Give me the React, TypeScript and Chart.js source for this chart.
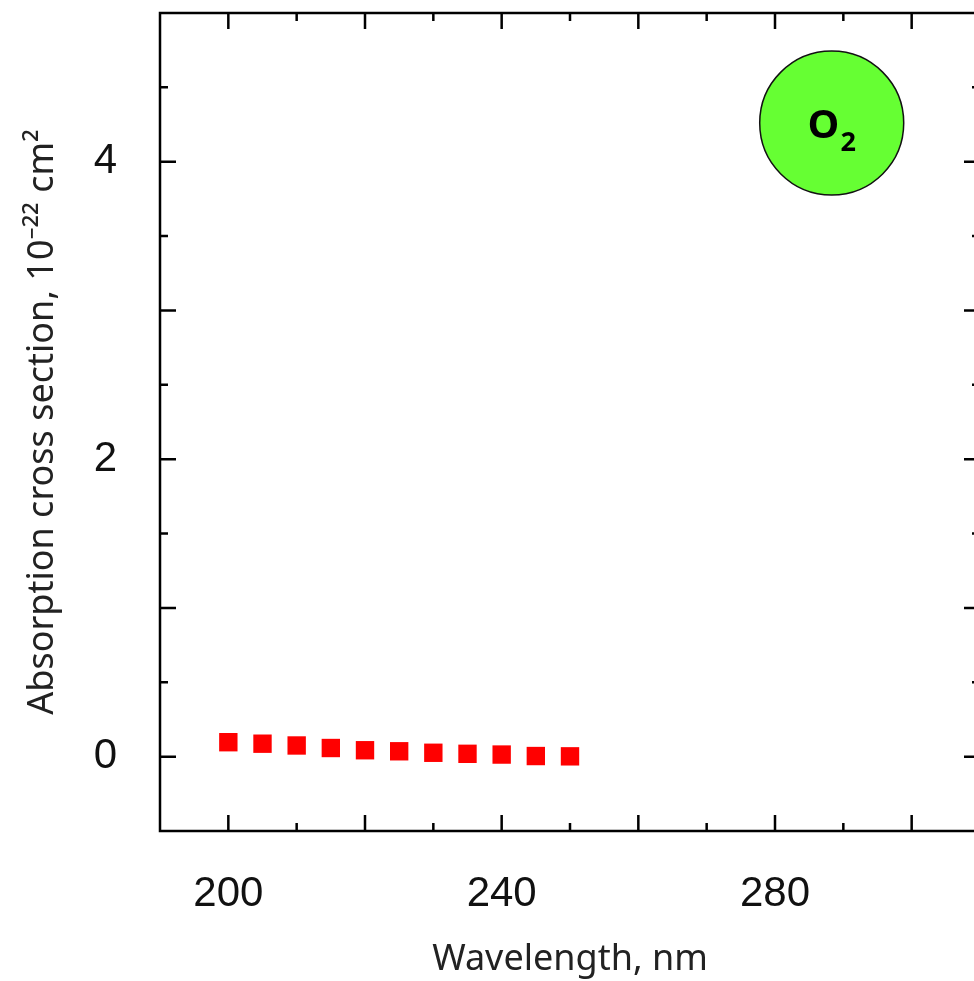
import React, { useEffect, useRef } from "react";
import { Chart, registerables } from "chart.js";

Chart.register(...registerables);

// ---- data ----
const wavelengths = [200, 205, 210, 215, 220, 225, 230, 235, 240, 245, 250];
const crossSections = [0.097, 0.087, 0.075, 0.058, 0.043, 0.036, 0.026, 0.019, 0.014, 0.004, 0.002];

// ---- axes ----
const xRange = [190, 310];
const yRange = [-0.5, 5];
const xTickLabels = [200, 240, 280];
const yTickLabels = [0, 2, 4];
const xMajorTicks = [200, 220, 240, 260, 280, 300];
const xMinorTicks = [210, 230, 250, 270, 290];
const yMajorTicks = [0, 1, 2, 3, 4];
const yMinorTicks = [0.5, 1.5, 2.5, 3.5, 4.5];

const xTitle = "Wavelength, nm";
const yTitle = "Absorption cross section, 10\u207B\u00B2\u00B2 cm\u00B2";

// ---- badge ----
const badgeMain = "O";
const badgeSub = "2";
const badgeWavelength = 288.3;
const badgeValue = 4.26;

const frameTicksPlugin = {
  id: "frameTicks",
  afterDraw(chart: any) {
    const { ctx, chartArea, scales } = chart;
    const { left, right, top, bottom } = chartArea;
    const xs = scales.x;
    const ys = scales.y;
    const major = 16;
    const minor = 8;
    ctx.save();
    ctx.strokeStyle = "#000";
    ctx.lineWidth = 2.5;
    ctx.lineCap = "butt";
    ctx.beginPath();
    const xt = (vals: number[], len: number) => {
      vals.forEach((v) => {
        const px = xs.getPixelForValue(v);
        ctx.moveTo(px, bottom);
        ctx.lineTo(px, bottom - len);
        ctx.moveTo(px, top);
        ctx.lineTo(px, top + len);
      });
    };
    const yt = (vals: number[], len: number) => {
      vals.forEach((v) => {
        const py = ys.getPixelForValue(v);
        ctx.moveTo(left, py);
        ctx.lineTo(left + len, py);
        ctx.moveTo(right, py);
        ctx.lineTo(right - len, py);
      });
    };
    xt(xMajorTicks, major);
    xt(xMinorTicks, minor);
    yt(yMajorTicks, major);
    yt(yMinorTicks, minor);
    ctx.stroke();
    ctx.lineWidth = 2.5;
    ctx.strokeRect(left, top, right - left, bottom - top);
    ctx.restore();
  },
};

const badgePlugin = {
  id: "badge",
  afterDraw(chart: any) {
    const { ctx, scales } = chart;
    const cx = scales.x.getPixelForValue(badgeWavelength);
    const cy = scales.y.getPixelForValue(badgeValue);
    const r = 72;
    ctx.save();
    ctx.beginPath();
    ctx.arc(cx, cy, r, 0, Math.PI * 2);
    ctx.fillStyle = "#66ff33";
    ctx.fill();
    ctx.lineWidth = 1.5;
    ctx.strokeStyle = "#111";
    ctx.stroke();
    ctx.fillStyle = "#000";
    ctx.textBaseline = "alphabetic";
    ctx.textAlign = "left";
    const mainFont = 'bold 40px "Open Sans"';
    const subFont = 'bold 27px "Open Sans"';
    ctx.font = mainFont;
    const wMain = ctx.measureText(badgeMain).width;
    ctx.font = subFont;
    const wSub = ctx.measureText(badgeSub).width;
    const start = cx - (wMain + wSub + 1) / 2;
    ctx.font = mainFont;
    ctx.fillText(badgeMain, start, cy + 15);
    ctx.font = subFont;
    ctx.fillText(badgeSub, start + wMain + 1, cy + 28);
    ctx.restore();
  },
};

export default function App() {
  const ref = useRef<HTMLCanvasElement>(null);
  useEffect(() => {
    const chart = new Chart(ref.current as HTMLCanvasElement, {
      type: "scatter",
      data: {
        datasets: [
          {
            data: wavelengths.map((w, i) => ({ x: w, y: crossSections[i] })),
            pointStyle: "rect",
            pointRadius: 13,
            pointHoverRadius: 13,
            backgroundColor: "#ff0000",
            borderWidth: 0,
            showLine: false,
          },
        ],
      },
      options: {
        animation: false,
        responsive: false,
        devicePixelRatio: 1,
        layout: { padding: { top: 12, right: 20, bottom: 0, left: 0 } },
        plugins: { legend: { display: false }, tooltip: { enabled: false } },
        scales: {
          x: {
            type: "linear",
            min: xRange[0],
            max: xRange[1],
            grid: { display: false, drawTicks: false },
            border: { display: false },
            afterBuildTicks: (s: any) => {
              s.ticks = xTickLabels.map((value) => ({ value }));
            },
            afterFit: (s: any) => {
              s.height = 150;
              s.paddingLeft = 0;
              s.paddingRight = 0;
            },
            ticks: {
              autoSkip: false,
              maxRotation: 0,
              padding: 38,
              color: "#111",
              font: { family: '"Liberation Sans", Arial, sans-serif', size: 42 },
            },
            title: {
              display: true,
              text: xTitle,
              color: "#222",
              padding: { top: 0, bottom: 0 },
              font: { family: '"Noto Sans", sans-serif', size: 36 },
            },
          },
          y: {
            type: "linear",
            min: yRange[0],
            max: yRange[1],
            grid: { display: false, drawTicks: false },
            border: { display: false },
            afterBuildTicks: (s: any) => {
              s.ticks = yTickLabels.map((value) => ({ value }));
            },
            afterFit: (s: any) => {
              s.width = 160;
              s.paddingTop = 0;
              s.paddingBottom = 0;
            },
            ticks: {
              autoSkip: false,
              padding: 43,
              color: "#111",
              font: { family: '"Liberation Sans", Arial, sans-serif', size: 42 },
            },
            title: {
              display: true,
              text: yTitle,
              color: "#222",
              padding: { top: 21, bottom: 0 },
              font: { family: '"Noto Sans", sans-serif', size: 36 },
            },
          },
        },
      },
      plugins: [frameTicksPlugin, badgePlugin],
    } as any);
    return () => chart.destroy();
  }, []);

  return (
    <div
      style={{
        position: "fixed",
        left: 0,
        top: 0,
        width: 974,
        height: 981,
        overflow: "hidden",
        background: "#fff",
      }}
    >
      <canvas
        ref={ref}
        width={1000}
        height={981}
        style={{ display: "block", width: 1000, height: 981 }}
      />
    </div>
  );
}
